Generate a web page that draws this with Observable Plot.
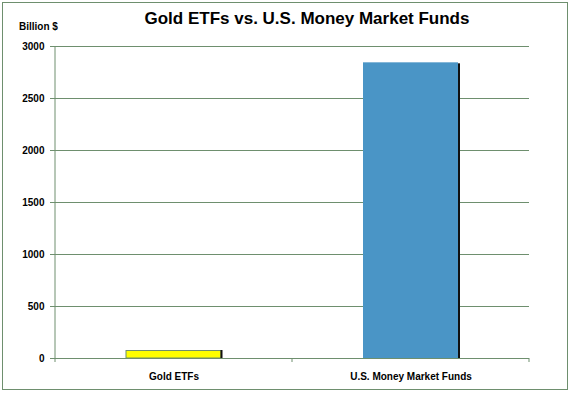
<!DOCTYPE html>
<html><head><meta charset="utf-8">
<script src="https://cdn.jsdelivr.net/npm/d3@7"></script>
<script src="https://cdn.jsdelivr.net/npm/@observablehq/plot@0.6"></script>
<style>
body{margin:0;background:#fff;font-family:"Liberation Sans",Arial,sans-serif;}
#wrap{position:relative;width:571px;height:393px;}
#border{position:absolute;left:2px;top:2px;width:564px;height:386px;border:1px solid #6e8f6e;box-sizing:content-box;}
#title{position:absolute;left:0;width:614px;top:9px;text-align:center;font-weight:bold;font-size:17px;color:#000;}
#ylab{position:absolute;left:19px;top:21px;font-weight:bold;font-size:10px;color:#000;}
#chart{position:absolute;left:0;top:0;}
</style></head>
<body><div id="wrap"><div id="border"></div><div id="chart"></div>
<div id="title">Gold ETFs vs. U.S. Money Market Funds</div><div id="ylab">Billion $</div></div>
<script>
const categories = ["Gold ETFs", "U.S. Money Market Funds"];
const values = [72, 2843];
const barColors = ["#ffff00", "#4a95c6"];
const yTicks = [0, 500, 1000, 1500, 2000, 2500, 3000];

const data = categories.map((c, i) => ({cat: c, value: values[i], color: barColors[i]}));
const gridColor = "#6e8f6e";

const chart = Plot.plot({
  width: 571, height: 393,
  marginLeft: 55, marginRight: 42, marginTop: 46, marginBottom: 35,
  style: {fontFamily: "'Liberation Sans', Arial, sans-serif", fontSize: "10px", fontWeight: "bold", background: "transparent", color: "#000"},
  x: {domain: categories, paddingInner: 0.6, paddingOuter: 0.3, label: null},
  y: {domain: [0, 3000], ticks: yTicks, label: null},
  marks: [
    Plot.gridY(yTicks, {stroke: gridColor, strokeOpacity: 1, strokeWidth: 1}),
    Plot.barY(data.slice(1), {x: "cat", y: "value", fill: "#111", dx: 2, dy: 1}),
    Plot.barY(data, {x: "cat", y: "value", fill: "color", stroke: (d, i) => i === 0 ? gridColor : "none", strokeWidth: 1}),
    Plot.barY(data.slice(0,1), {x: "cat", y: "value", fill: "none", stroke: "#111", dx: 1, insetLeft: 94, strokeWidth: 1}),
    Plot.axisY({ticks: yTicks, tickSize: 5, tickPadding: 6, stroke: gridColor, tickFormat: d => String(d), fontWeight: "bold"}),
    Plot.ruleX([0], {x: () => categories[0], stroke: "none"}),
    Plot.axisX({tickSize: 0, tickPadding: 14, fontWeight: "bold"}),
    Plot.ruleY([0], {stroke: gridColor})
  ]
});
document.getElementById("chart").appendChild(chart);

// y axis line and category boundary ticks drawn from the Plot scales
const xs = chart.scale("x"), ys = chart.scale("y");
const svg = d3.select(chart);
const y0 = ys.apply(0), yTop = ys.apply(3000);
const bounds = [];
categories.forEach((c, i) => {
  const center = xs.apply(c) + xs.bandwidth / 2;
  if (i === 0) bounds.push(center - xs.step / 2);
  bounds.push(center + xs.step / 2);
});
svg.append("line").attr("x1", bounds[0]).attr("x2", bounds[0]).attr("y1", yTop).attr("y2", y0).attr("stroke", gridColor);
bounds.forEach(b => svg.append("line").attr("x1", b).attr("x2", b).attr("y1", y0).attr("y2", y0 + 4).attr("stroke", gridColor));
</script>
</body></html>
